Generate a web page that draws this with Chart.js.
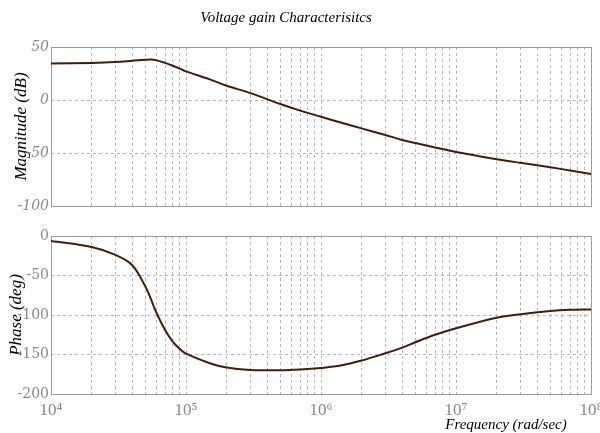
<!DOCTYPE html>
<html>
<head>
<meta charset="utf-8">
<script src="https://cdn.jsdelivr.net/npm/chart.js@4"></script>
<style>
  html, body { margin: 0; padding: 0; background: #fff; }
  #wrap { position: relative; width: 600px; height: 433px; overflow: hidden; }
  #wrap canvas { position: absolute; left: 0; }
  #magChart { top: 0; }
  #phaseChart { top: 220px; }
</style>
</head>
<body>
<div id="wrap">
  <canvas id="magChart" width="600" height="220"></canvas>
  <canvas id="phaseChart" width="600" height="213"></canvas>
</div>
<script>
// frequencies (rad/sec)
var freq = [1e4, 2e4, 3e4, 4e4, 5e4, 5.5e4, 6e4, 7e4, 8e4, 9e4, 1e5, 1.5e5, 2e5, 3e5, 5e5, 7e5,
            1e6, 1.4e6, 2e6, 3e6, 4e6, 5e6, 7e6, 1e7, 2e7, 3e7, 5e7, 7e7, 1e8];
var magnitude = [34.5, 35, 35.8, 37, 38, 38.2, 37.6, 35, 32.3, 29.6, 27, 19.5, 13.5, 6.5, -3.8, -10,
                 -15.8, -21.3, -26.8, -33, -37.7, -40.6, -44.8, -49, -55.8, -59.3, -63.5, -66.5, -69.8];
var phase = [-6.3, -14, -24, -37, -64, -80, -96, -119, -134, -143, -149, -161, -166.5, -169.5, -170, -169,
             -167, -164, -157.7, -148.4, -141.3, -134.5, -125, -116.8, -103.5, -99, -95, -93.5, -93];

var decades = [4, 5, 6, 7, 8];
var multipliers = [1, 2, 3, 4, 5, 6, 7, 8, 9];
var magTicks = [-100, -50, 0, 50];
var phaseTicks = [-200, -150, -100, -50, 0];
var superDigits = { "4": "\u2074", "5": "\u2075", "6": "\u2076", "7": "\u2077", "8": "\u2078" };

var freqTicks = [];
decades.forEach(function (e) {
  multipliers.forEach(function (m) {
    var v = m * Math.pow(10, e);
    if (v <= 1e8) freqTicks.push(v);
  });
});

var lineColor = "#3f1f0c";
var gridColor = "#b8b8b8";
var tickColor = "#8a8a8a";

var framePlugin = {
  id: "frame",
  beforeDatasetsDraw: function (chart) {
    var a = chart.chartArea, ctx = chart.ctx;
    ctx.save();
    ctx.strokeStyle = "#9c9c9c";
    ctx.lineWidth = 1;
    ctx.setLineDash([]);
    ctx.strokeRect(Math.round(a.left) + 0.5, Math.round(a.top) + 0.5,
      Math.round(a.right - a.left), Math.round(a.bottom - a.top));
    ctx.restore();
  },
  afterDraw: function (chart, args, opts) {
    if (!opts || !opts.text) return;
    var ctx = chart.ctx;
    ctx.save();
    ctx.font = opts.font;
    ctx.fillStyle = "#000";
    ctx.textAlign = "center";
    ctx.textBaseline = "alphabetic";
    ctx.fillText(opts.text, opts.x, opts.y);
    ctx.restore();
  }
};

function points(values) {
  return freq.map(function (f, i) { return { x: f, y: values[i] }; });
}

function buildChart(id, values, yTicks, opts) {
  return new Chart(document.getElementById(id), {
    type: "line",
    data: {
      datasets: [{
        data: points(values),
        borderColor: lineColor,
        borderWidth: 2,
        pointRadius: 0,
        tension: 0.35,
        fill: false
      }]
    },
    options: {
      responsive: false,
      animation: false,
      devicePixelRatio: 1,
      layout: { padding: opts.padding },
      plugins: {
        legend: { display: false },
        tooltip: { enabled: false },
        frame: opts.caption
      },
      scales: {
        x: {
          type: "logarithmic",
          min: freqTicks[0],
          max: freqTicks[freqTicks.length - 1],
          afterBuildTicks: function (scale) {
            scale.ticks = freqTicks.map(function (v) { return { value: v }; });
          },
          afterFit: function (scale) {
            scale.height = opts.xHeight;
            scale.paddingLeft = 0;
            scale.paddingRight = 0;
          },
          grid: { color: gridColor, lineWidth: 1, drawTicks: false },
          border: { display: false, dash: [3, 3] },
          ticks: {
            display: opts.showX,
            autoSkip: false,
            maxRotation: 0,
            minRotation: 0,
            padding: 6,
            color: tickColor,
            font: { family: "Liberation Serif", size: 17 },
            callback: function (value) {
              var e = Math.log10(value);
              if (Math.abs(e - Math.round(e)) > 1e-9) return "";
              return "10" + superDigits[String(Math.round(e))];
            }
          }
        },
        y: {
          min: yTicks[0],
          max: yTicks[yTicks.length - 1],
          afterBuildTicks: function (scale) {
            scale.ticks = yTicks.map(function (v) { return { value: v }; });
          },
          afterFit: function (scale) { scale.width = 51; },
          grid: { color: gridColor, lineWidth: 1, drawTicks: false },
          border: { display: false, dash: [3, 3] },
          ticks: {
            padding: 2,
            color: tickColor,
            font: { family: "DejaVu Serif", size: 14, style: opts.tickStyle }
          },
          title: {
            display: true,
            text: opts.yTitle,
            color: "#000",
            padding: { top: opts.titlePad, bottom: 0 },
            font: { family: "Liberation Serif", size: 17, style: "italic" }
          }
        }
      }
    },
    plugins: [framePlugin]
  });
}

buildChart("magChart", magnitude, magTicks, {
  padding: { top: 47, right: 9, bottom: 14, left: 0 },
  xHeight: 0,
  showX: false,
  tickStyle: "italic",
  yTitle: "Magnitude (dB)",
  titlePad: 11,
  caption: { text: "Voltage gain Characterisitcs", x: 286, y: 22, font: "italic 15px 'Liberation Serif'" }
});

buildChart("phaseChart", phase, phaseTicks, {
  padding: { top: 16, right: 9, bottom: 0, left: 0 },
  xHeight: 39,
  showX: true,
  tickStyle: "normal",
  yTitle: "Phase (deg)",
  titlePad: 6,
  caption: { text: "Frequency (rad/sec)", x: 506, y: 209, font: "italic 15px 'Liberation Serif'" }
});
</script>
</body>
</html>
